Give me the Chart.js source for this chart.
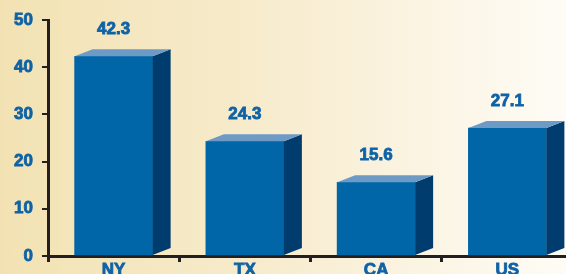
<!DOCTYPE html>
<html>
<head>
<meta charset="utf-8">
<script src="https://cdn.jsdelivr.net/npm/chart.js@4.4.1/dist/chart.umd.min.js"></script>
<style>
  html, body { margin: 0; padding: 0; }
  #wrap {
    width: 566px; height: 274px; overflow: hidden; position: relative;
    background: linear-gradient(to right, #f2e2b3 0%, #f7ebcc 45%, #fefcf6 100%);
  }
  canvas { display: block; }
</style>
</head>
<body>
<div id="wrap"><canvas id="chart" width="574" height="290"></canvas></div>
<script>
// Chart data
const categories = ['NY', 'TX', 'CA', 'US'];
const values = [42.3, 24.3, 15.6, 27.1];
const yTicks = [0, 10, 20, 30, 40, 50];

const blue = '#0e62a6';
const axisColor = '#231f20';
const fontFamily = '"Liberation Sans", Arial, sans-serif';

// Draw the side and top faces of each bar, plus the value label
const bar3d = {
    id: 'bar3d',
    afterDatasetsDraw(chart) {
        const ctx = chart.ctx;
        const meta = chart.getDatasetMeta(0);
        const dx = 18, dy = 7;
        ctx.save();
        meta.data.forEach((bar, i) => {
            const half = bar.width / 2;
            const left = bar.x - half, right = bar.x + half;
            const top = bar.y, base = bar.base;

            // side
            ctx.fillStyle = '#003d6e';
            ctx.beginPath();
            ctx.moveTo(right, top);
            ctx.lineTo(right + dx, top - dy);
            ctx.lineTo(right + dx, base - dy);
            ctx.lineTo(right, base);
            ctx.closePath();
            ctx.fill();

            // top
            ctx.fillStyle = '#6e9bc6';
            ctx.beginPath();
            ctx.moveTo(left, top);
            ctx.lineTo(left + dx, top - dy);
            ctx.lineTo(right + dx, top - dy);
            ctx.lineTo(right, top);
            ctx.closePath();
            ctx.fill();

            // value label (stroked a little to look heavier)
            ctx.fillStyle = blue;
            ctx.strokeStyle = blue;
            ctx.lineWidth = 0.8;
            ctx.font = 'bold 17px ' + fontFamily;
            ctx.textAlign = 'center';
            ctx.textBaseline = 'middle';
            const txt = values[i].toFixed(1);
            ctx.strokeText(txt, bar.x, top - 27);
            ctx.fillText(txt, bar.x, top - 27);
        });
        ctx.restore();
    }
};

new Chart(document.getElementById('chart'), {
    type: 'bar',
    data: {
        labels: categories,
        datasets: [{
            data: values,
            backgroundColor: '#0066a8',
            borderWidth: 0,
            barThickness: 78
        }]
    },
    options: {
        responsive: false,
        animation: false,
        layout: { padding: { top: 20, right: 1, left: 0, bottom: 0 } },
        plugins: {
            legend: { display: false },
            tooltip: { enabled: false }
        },
        scales: {
            x: {
                afterFit: (scale) => { scale.height = 34; },
                grid: {
                    display: true,
                    drawOnChartArea: false,
                    offset: true,
                    tickLength: 6,
                    lineWidth: 3,
                    color: axisColor
                },
                border: { display: true, color: axisColor, width: 3 },
                ticks: {
                    color: blue,
                    padding: -2,
                    textStrokeColor: blue,
                    textStrokeWidth: 0.8,
                    font: { family: fontFamily, size: 17, weight: 'bold' }
                }
            },
            y: {
                min: 0,
                max: 50,
                afterFit: (scale) => { scale.width = 48; },
                afterBuildTicks: (scale) => { scale.ticks = yTicks.map(v => ({ value: v })); },
                grid: {
                    display: true,
                    drawOnChartArea: false,
                    tickLength: 6,
                    lineWidth: 2,
                    color: axisColor
                },
                border: { display: true, color: axisColor, width: 3 },
                ticks: {
                    color: blue,
                    padding: 9,
                    textStrokeColor: blue,
                    textStrokeWidth: 0.8,
                    font: { family: fontFamily, size: 17, weight: 'bold' }
                }
            }
        }
    },
    plugins: [bar3d]
});
</script>
</body>
</html>
